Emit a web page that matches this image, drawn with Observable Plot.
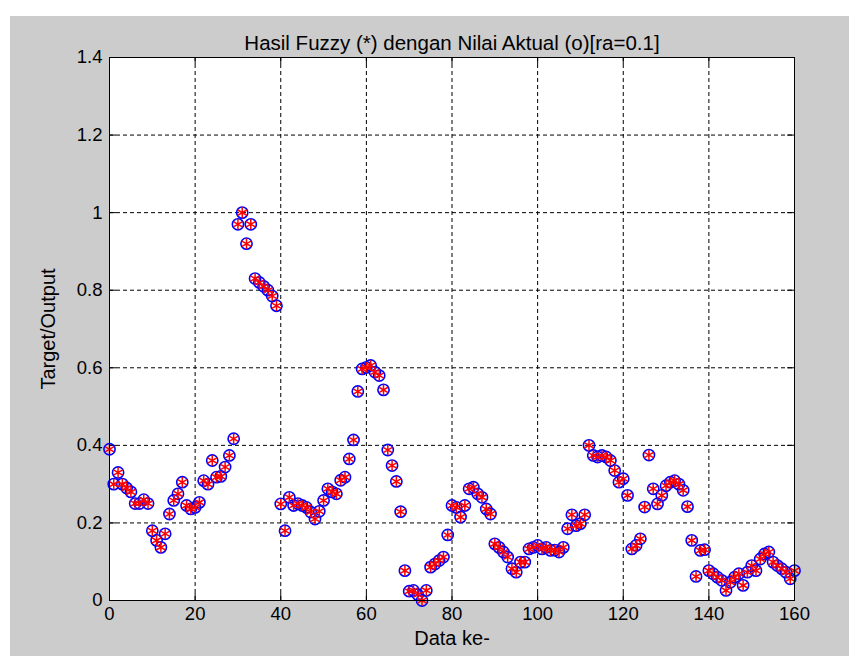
<!DOCTYPE html>
<html>
<head>
<meta charset="utf-8">
<script src="https://cdn.jsdelivr.net/npm/d3@7"></script>
<script src="https://cdn.jsdelivr.net/npm/@observablehq/plot@0.6"></script>
<style>
  html, body { margin: 0; padding: 0; background: #ffffff; width: 849px; height: 656px; overflow: hidden; }
  #chart { position: absolute; left: 10px; top: 16px; }
</style>
</head>
<body>
<div id="chart"></div>
<script>
// ---- data ----
const titleText = "Hasil Fuzzy (*) dengan Nilai Aktual (o)[ra=0.1]";
const xLabel = "Data ke-";
const yLabel = "Target/Output";
const xTicks = [0, 20, 40, 60, 80, 100, 120, 140, 160];
const yTicks = [0, 0.2, 0.4, 0.6, 0.8, 1.0, 1.2, 1.4];

// Nilai Aktual (o) — index 0..160
const aktual = [
  0.39, 0.30, 0.33, 0.30, 0.29, 0.28, 0.25, 0.25, 0.26, 0.25,
  0.18, 0.155, 0.137, 0.172, 0.223, 0.258, 0.275, 0.305, 0.245, 0.236,
  0.24, 0.253, 0.309, 0.30, 0.361, 0.318, 0.32, 0.344, 0.374, 0.417,
  0.97, 1.00, 0.92, 0.97, 0.83, 0.82, 0.81, 0.80, 0.785, 0.76,
  0.249, 0.18, 0.266, 0.245, 0.25, 0.245, 0.24, 0.228, 0.21, 0.23,
  0.258, 0.288, 0.28, 0.275, 0.31, 0.318, 0.365, 0.414, 0.539, 0.597,
  0.601, 0.606, 0.589, 0.58, 0.543, 0.388, 0.348, 0.307, 0.229, 0.077,
  0.024, 0.026, 0.015, 0.0, 0.026, 0.086, 0.094, 0.103, 0.112, 0.169,
  0.245, 0.24, 0.215, 0.245, 0.288, 0.292, 0.275, 0.266, 0.236, 0.223,
  0.146, 0.137, 0.125, 0.112, 0.082, 0.073, 0.099, 0.099, 0.133, 0.137,
  0.142, 0.133, 0.137, 0.129, 0.13, 0.125, 0.137, 0.185, 0.221, 0.193,
  0.198, 0.221, 0.40, 0.374, 0.37, 0.374, 0.37, 0.361, 0.335, 0.305,
  0.314, 0.271, 0.133, 0.142, 0.159, 0.241, 0.375, 0.288, 0.249, 0.271,
  0.296, 0.305, 0.309, 0.30, 0.284, 0.242, 0.155, 0.062, 0.129, 0.131,
  0.077, 0.069, 0.06, 0.052, 0.026, 0.047, 0.06, 0.069, 0.039, 0.073,
  0.09, 0.077, 0.107, 0.12, 0.125, 0.099, 0.09, 0.082, 0.073, 0.056,
  0.077
];
// Hasil Fuzzy (*) — visually identical to the actual values in the picture
const fuzzy = aktual.slice();

// ---- layout ----
const pageL = 10, pageT = 16;
const W = 849 - pageL, H = 656 - pageT;
const font = "'Liberation Sans', Arial, sans-serif";

const ptsA = aktual.map((v, i) => ({x: i, y: v}));
const ptsF = fuzzy.map((v, i) => ({x: i, y: v}));

const tickLenY = 7 / ((600 - 57) / 1.4);   // inward tick length in y units
const tickLenX = 7 / ((794 - 109) / 160);  // inward tick length in x units

const chart = Plot.plot({
  width: W,
  height: H,
  marginLeft: 109 - pageL,
  marginRight: 849 - 794,
  marginTop: 57 - pageT,
  marginBottom: 656 - 600,
  style: {background: "#cccccc", fontFamily: font, fontSize: "18px", color: "black", overflow: "visible"},
  x: {domain: [0, 160]},
  y: {domain: [0, 1.4]},
  marks: [
    Plot.frame({fill: "white", stroke: "none"}),
    Plot.gridX(xTicks.slice(1, -1), {stroke: "black", strokeOpacity: 1, strokeWidth: 1, strokeDasharray: "4,3"}),
    Plot.gridY(yTicks.slice(1, -1), {stroke: "black", strokeOpacity: 1, strokeWidth: 1, strokeDasharray: "4,3"}),
    // inward ticks on all four sides
    Plot.ruleX(xTicks, {x: d => d, y1: 0, y2: tickLenY, stroke: "black"}),
    Plot.ruleX(xTicks, {x: d => d, y1: 1.4 - tickLenY, y2: 1.4, stroke: "black"}),
    Plot.ruleY(yTicks, {y: d => d, x1: 0, x2: tickLenX, stroke: "black"}),
    Plot.ruleY(yTicks, {y: d => d, x1: 160 - tickLenX, x2: 160, stroke: "black"}),
    Plot.dot(ptsA, {x: "x", y: "y", r: 5.6, stroke: "#0000ff", strokeWidth: 1.6, fill: "none"}),
    Plot.dot(ptsF, {x: "x", y: "y", r: 5, symbol: "asterisk", stroke: "#ff0000", strokeWidth: 1.5}),
    Plot.frame({stroke: "black", strokeWidth: 1}),
    Plot.axisX(xTicks, {tickSize: 0, tickPadding: 6, label: null, tickFormat: d => String(d), fontSize: 18.5}),
    Plot.axisY(yTicks, {tickSize: 0, tickPadding: 7, label: null, tickFormat: d => String(+d.toFixed(1)), fontSize: 18.5}),
    Plot.text([titleText], {frameAnchor: "top", dy: -22, text: d => d, fontSize: 20.5, fill: "black"}),
    Plot.text([xLabel], {frameAnchor: "bottom", dy: 44, textAnchor: "middle", text: d => d, fontSize: 20, fill: "black"}),
    Plot.text([yLabel], {frameAnchor: "left", dx: -61, rotate: -90, textAnchor: "middle", text: d => d, fontSize: 20, fill: "black"})
  ]
});
document.getElementById("chart").appendChild(chart);
</script>
</body>
</html>
